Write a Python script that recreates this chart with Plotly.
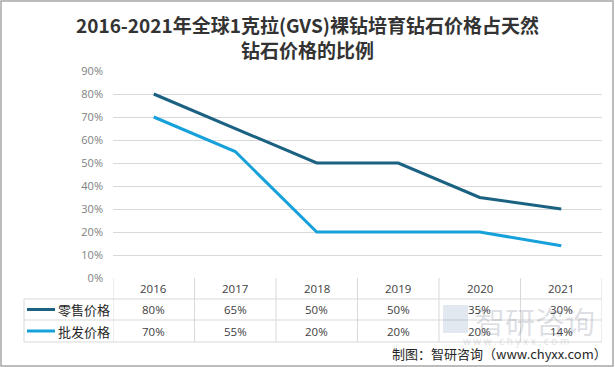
import plotly.graph_objects as go

years = ["2016", "2017", "2018", "2019", "2020", "2021"]
retail = [80, 65, 50, 50, 35, 30]
wholesale = [70, 55, 20, 20, 20, 14]
series_names = ["零售价格", "批发价格"]
colors = ["#1B6282", "#16A1DB"]
y_ticks = [0, 10, 20, 30, 40, 50, 60, 70, 80, 90]

W, H = 615, 367
L, R, T, B = 113, 602, 71, 278


def px_x(p):
    return (p - L) / (R - L)


def px_y(p):
    return (B - p) / (B - T)


fig = go.Figure()
for name, vals, c in zip(series_names, [retail, wholesale], colors):
    fig.add_trace(go.Scatter(
        x=years, y=[v / 100 for v in vals], mode="lines", name=name,
        line=dict(color=c, width=3), showlegend=False, hoverinfo="skip"))

grid = "#D9D9D9"
shapes = []
annotations = []

# table horizontal lines
row_y = [299, 320, 342]
for yy in row_y:
    shapes.append(dict(type="line", xref="paper", yref="paper",
                       x0=px_x(24), x1=1, y0=px_y(yy), y1=px_y(yy),
                       line=dict(color=grid, width=1)))
# left vertical of legend column
shapes.append(dict(type="line", xref="paper", yref="paper",
                   x0=px_x(24), x1=px_x(24), y0=px_y(299), y1=px_y(342),
                   line=dict(color=grid, width=1)))
# category boundaries
for i in range(len(years) + 1):
    shapes.append(dict(type="line", xref="x", yref="paper",
                       x0=i - 0.5, x1=i - 0.5, y0=0, y1=px_y(342),
                       line=dict(color=grid, width=1)))

# watermark (drawn first so that table texts sit on top)
wm = "rgba(120,130,150,0.25)"
annotations.append(dict(x=px_x(535), y=px_y(320), xref="paper", yref="paper",
                        text="智研咨询", showarrow=False, xanchor="center", yanchor="middle",
                        font=dict(size=30, color=wm, family="Noto Sans CJK SC")))
annotations.append(dict(x=px_x(516), y=px_y(341), xref="paper", yref="paper",
                        text="w w w . c h y x x . c o m", showarrow=False,
                        xanchor="center", yanchor="middle",
                        font=dict(size=10, color=wm, family="Open Sans")))
shapes.append(dict(type="rect", xref="paper", yref="paper",
                   x0=px_x(443), x1=px_x(468), y0=px_y(333), y1=px_y(305),
                   line=dict(width=0), fillcolor="rgba(110,140,180,0.20)"))

row_centers = [288.5, 309.5, 331]
tfont = dict(size=11.5, color="#404040", family="Open Sans, Noto Sans CJK SC")
for i, yr in enumerate(years):
    annotations.append(dict(x=i, y=px_y(row_centers[0]), xref="x", yref="paper",
                            text=yr, showarrow=False, xanchor="center", yanchor="middle",
                            font=tfont))
    for r, vals in enumerate([retail, wholesale]):
        annotations.append(dict(x=i, y=px_y(row_centers[r + 1]), xref="x", yref="paper",
                                text=f"{vals[i]}%", showarrow=False,
                                xanchor="center", yanchor="middle", font=tfont))

# legend keys in table
for r, (name, c) in enumerate(zip(series_names, colors)):
    yc = row_centers[r + 1]
    shapes.append(dict(type="line", xref="paper", yref="paper",
                       x0=px_x(27), x1=px_x(55), y0=px_y(yc), y1=px_y(yc),
                       line=dict(color=c, width=3)))
    annotations.append(dict(x=px_x(56), y=px_y(yc), xref="paper", yref="paper",
                            text=name, showarrow=False, xanchor="left", yanchor="middle",
                            font=dict(size=13, color="#262626", family="Noto Sans CJK SC")))

# source
annotations.append(dict(x=px_x(609), y=px_y(353), xref="paper", yref="paper",
                        text="制图：智研咨询（www.chyxx.com）", showarrow=False,
                        xanchor="right", yanchor="middle",
                        font=dict(size=13, color="#262626", family="Noto Sans CJK SC")))

# title
annotations.append(dict(x=px_x(307), y=px_y(37), xref="paper", yref="paper",
                        text="<b>2016-2021年全球1克拉(GVS)裸钻培育钻石价格占天然<br>钻石价格的比例</b>",
                        showarrow=False, xanchor="center", yanchor="middle",
                        font=dict(size=19, color="#333333", family="Noto Sans CJK SC")))

# border
shapes.append(dict(type="rect", xref="paper", yref="paper",
                   x0=px_x(1), x1=px_x(613), y0=px_y(1), y1=px_y(366),
                   line=dict(color="#A6A6A6", width=1.5)))

fig.update_layout(
    width=W, height=H,
    margin=dict(l=L, r=W - R, t=T, b=H - B),
    paper_bgcolor="white", plot_bgcolor="white",
    shapes=shapes, annotations=annotations,
    xaxis=dict(type="category", range=[-0.5, 5.5], showticklabels=False,
               showgrid=False, zeroline=False, showline=False),
    yaxis=dict(range=[0, 0.9], tickvals=[v / 100 for v in y_ticks],
               ticktext=[f"{v}%" for v in y_ticks], showgrid=True, gridcolor=grid,
               gridwidth=1, zeroline=False, showline=False, ticks="",
               ticklabelstandoff=9,
               tickfont=dict(size=11, color="#808080", family="Open Sans, Noto Sans CJK SC")),
)

fig.write_html("out.html", config={"displayModeBar": False},
               post_script="document.body.style.margin='0';document.body.style.padding='0';")
